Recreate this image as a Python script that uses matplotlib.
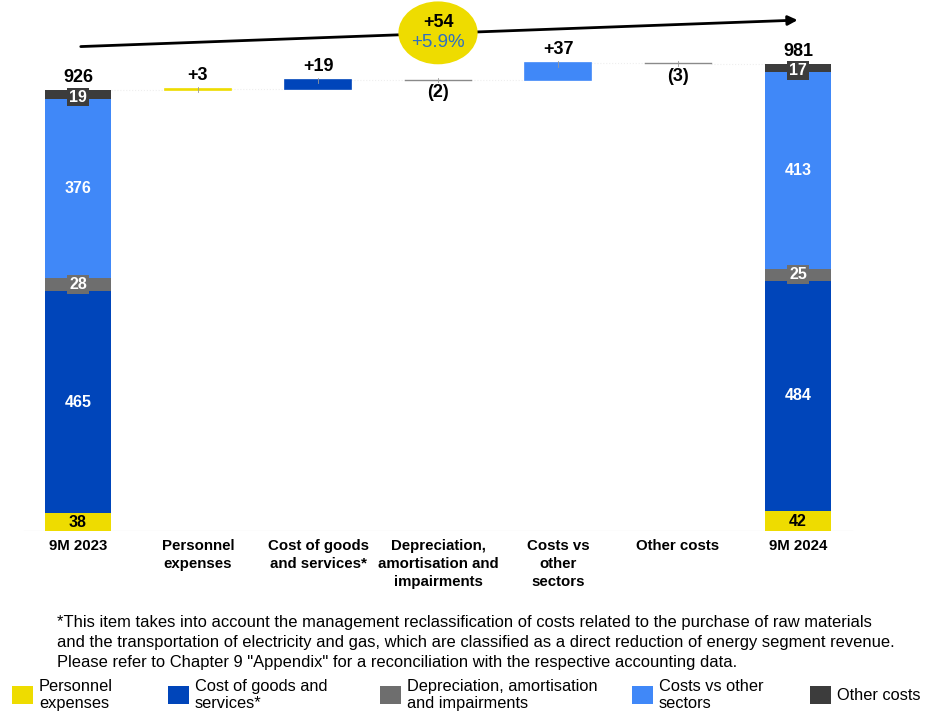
import matplotlib
matplotlib.use("Agg")
import matplotlib.pyplot as plt
from matplotlib.patches import Ellipse, Rectangle
from matplotlib import font_manager

# ---- data ----
categories = ["9M 2023", "Personnel\nexpenses", "Cost of goods\nand services*",
              "Depreciation,\namortisation and\nimpairments", "Costs vs\nother\nsectors",
              "Other costs", "9M 2024"]
series = ["Personnel\nexpenses", "Cost of goods and\nservices*",
          "Depreciation, amortisation\nand impairments", "Costs vs other\nsectors", "Other costs"]
colors = ["#EEDC00", "#0045BA", "#6E6E6E", "#4088F8", "#3C3C3C"]
start_values = [38, 465, 28, 376, 19]
end_values = [42, 484, 25, 413, 17]
deltas = [3, 19, -2, 37, -3]
delta_labels = ["+3", "+19", "(2)", "+37", "(3)"]
total_change = "+54"
total_change_pct = "+5.9%"
footnote = ['*This item takes into account the management reclassification of costs related to the purchase of raw materials',
            'and the transportation of electricity and gas, which are classified as a direct reduction of energy segment revenue.',
            'Please refer to Chapter 9 "Appendix" for a reconciliation with the respective accounting data.']

names = {f.name for f in font_manager.fontManager.ttflist}
base_font = "Liberation Sans" if "Liberation Sans" in names else "DejaVu Sans"
plt.rcParams["font.family"] = [base_font, "DejaVu Sans"]

W, H = 925, 712
fig = plt.figure(figsize=(W / 100, H / 100), dpi=100)
ax = fig.add_axes([18 / W, (H - 531) / H, 840 / W, 531 / H])
ax.set_xlim(-0.5, 6.5)
ax.set_ylim(0, 1115)
ax.axis("off")

bw = 0.55
px = 1115 / 531  # data units per pixel, vertically

def stacked(x, vals):
    bottom = 0
    spans = []
    for v, c in zip(vals, colors):
        ax.bar(x, v, bottom=bottom, width=bw, color=c, linewidth=0, zorder=2)
        spans.append((bottom, bottom + v))
        bottom += v
    return spans, bottom

def seg_labels(x, vals, spans):
    n = len(vals)
    for i, (v, (lo, hi)) in enumerate(zip(vals, spans)):
        m = (lo + hi) / 2
        if i == 0:
            ax.text(x, m - 1, str(v), ha="center", va="center", fontsize=11.5,
                    fontweight="bold", color="black", zorder=4)
        elif v < 50:
            y = hi - 7 * px if i == n - 1 else m
            ax.text(x, y, str(v), ha="center", va="center", fontsize=11.5, fontweight="bold",
                    color="white", zorder=4,
                    bbox=dict(boxstyle="square,pad=0.12", fc=colors[i], ec="none"))
        else:
            ax.text(x, m, str(v), ha="center", va="center", fontsize=11.5, fontweight="bold",
                    color="white", zorder=4)

spans0, total0 = stacked(0, start_values)
seg_labels(0, start_values, spans0)
spans1, total1 = stacked(6, end_values)
seg_labels(6, end_values, spans1)

ax.text(0, total0 + 9, str(total0), ha="center", va="bottom", fontsize=13, fontweight="bold")
ax.text(6, total1 + 9, str(total1), ha="center", va="bottom", fontsize=13, fontweight="bold")

# floating waterfall steps
level = total0
for i, (d, lab) in enumerate(zip(deltas, delta_labels)):
    x = i + 1
    low, high = min(level, level + d), max(level, level + d)
    ax.plot([x - 1 + bw / 2, x - bw / 2], [level, level], color="#eeeeee", lw=0.8, ls=":", zorder=1)
    if d > 0:
        ax.bar(x, d, bottom=low, width=bw, color=colors[i], edgecolor=colors[i],
               linewidth=1.2, zorder=2)
        ax.plot([x, x], [high - 8, high + 4], color="#999999", lw=0.6, zorder=3)
        ax.text(x, high + 10, lab, ha="center", va="bottom", fontsize=13, fontweight="bold")
    else:
        ax.plot([x - bw / 2, x + bw / 2], [high, high], color="#8a8a8a", lw=1.0, zorder=2)
        ax.plot([x, x], [high - 6, high + 3], color="#999999", lw=0.6, zorder=3)
        ax.text(x, high - 10, lab, ha="center", va="top", fontsize=13, fontweight="bold")
    level += d
ax.plot([5 + bw / 2, 6 - bw / 2], [level, level], color="#eeeeee", lw=0.8, ls=":", zorder=1)

# baseline
ax.plot([-0.45, 6.45], [0, 0], color="#f0f0f0", lw=1.0, zorder=1)

# overall trend arrow and change bubble
ax.annotate("", xy=(6.02, 1073), xytext=(0, 1017),
            arrowprops=dict(arrowstyle="-|>", color="black", lw=2.0, mutation_scale=14),
            annotation_clip=False, zorder=3)
ax.add_patch(Ellipse((3, 1046), 0.66, 132, facecolor="#EEDC00", edgecolor="none",
                     zorder=5, clip_on=False))
ax.text(3, 1068, total_change, ha="center", va="center", fontsize=13, fontweight="bold", zorder=6)
ax.text(3, 1026, total_change_pct, ha="center", va="center", fontsize=13.5, color="#2F6FC0", zorder=6)

# category labels
for i, c in enumerate(categories):
    ax.text(i, -16, c, ha="center", va="top", fontsize=10.8, fontweight="bold",
            linespacing=1.38, clip_on=False)

# footnote
for k, line in enumerate(footnote):
    fig.text(57 / W, 1 - (622 + 20 * k) / H, line, ha="left", va="center", fontsize=11.9)

# legend
sq_x = [12, 168, 380, 632, 810]
for x0, name, c in zip(sq_x, series, colors):
    fig.add_artist(Rectangle((x0 / W, 1 - 704 / H), 21 / W, 18 / H, transform=fig.transFigure,
                             facecolor=c, edgecolor="none"))
    fig.text((x0 + 27) / W, 1 - 695 / H, name, ha="left", va="center", fontsize=11.8,
             linespacing=1.1)

fig.savefig("out.png", dpi=100, facecolor="white")
